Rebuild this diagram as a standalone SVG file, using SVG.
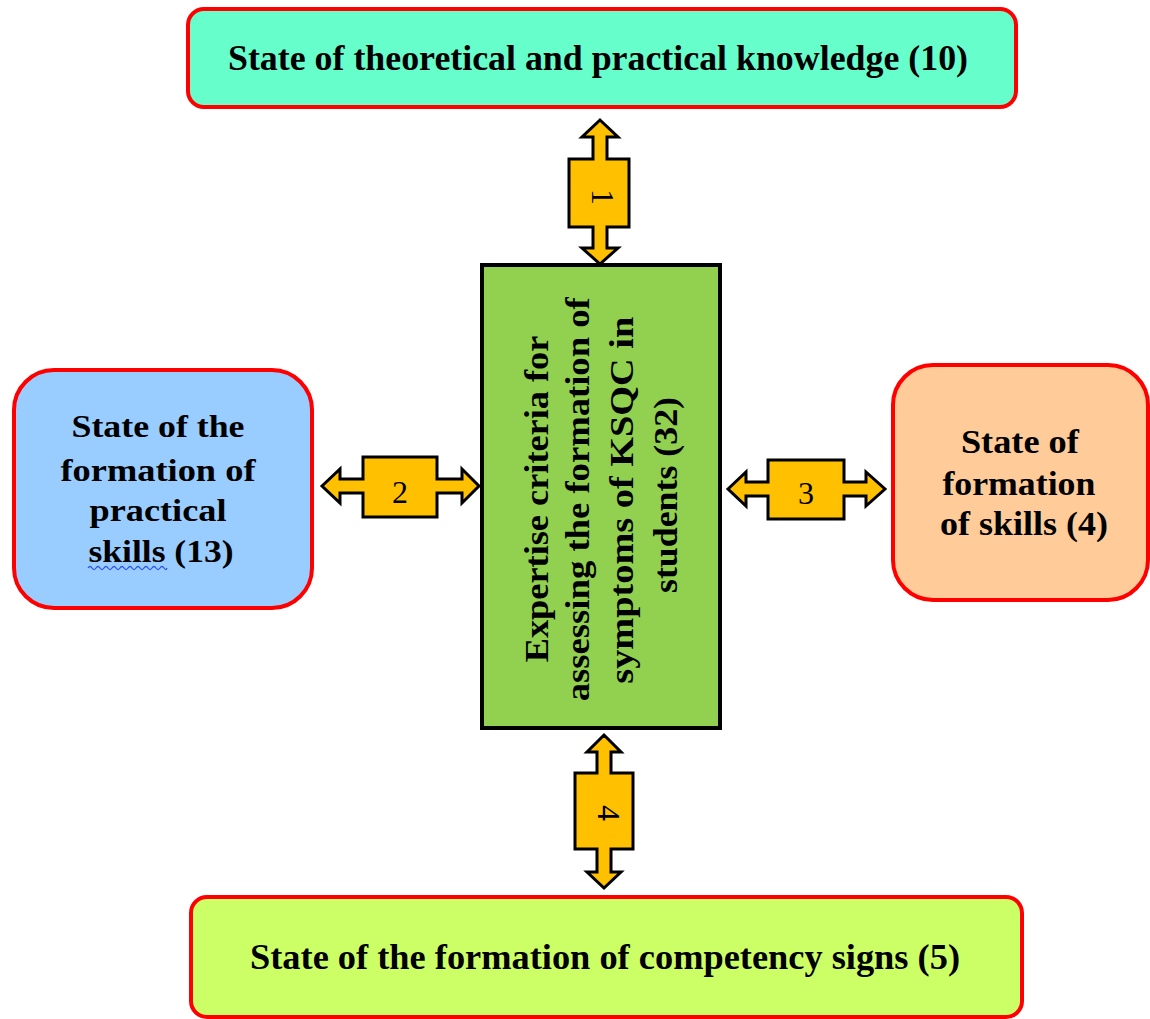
<svg xmlns="http://www.w3.org/2000/svg" width="1150" height="1019" viewBox="0 0 1150 1019">
<style>
.box{stroke:#FF0000;stroke-width:4}
.t{font-family:"Liberation Serif","Times New Roman",serif;font-weight:bold;fill:#000}
.arr{fill:#FFC000;stroke:#000;stroke-width:3;stroke-linejoin:miter}
.num{font-family:"Liberation Serif","Times New Roman",serif;font-size:32px;fill:#000}
</style>
<rect width="1150" height="1019" fill="#fff"/>
<g id="connectors">
<g id="arrow1">
<path class="arr" d="M600,120 L618,137 L607,137 L607,159 L629,159 L629,227 L607,227 L607,248 L618,248 L600,264 L582,248 L593,248 L593,227 L569,227 L569,159 L593,159 L593,137 L582,137 Z"/>
<text class="num" transform="rotate(90)" x="197" y="-592" text-anchor="middle">1</text>
</g>
<g id="arrow2">
<path class="arr" d="M322,486 L340,469 L340,479 L363,479 L363,457 L437,457 L437,479 L462,479 L462,469 L479,486 L462,503 L462,493 L437,493 L437,517 L363,517 L363,493 L340,493 L340,503 Z"/>
<text class="num" x="400" y="503" text-anchor="middle">2</text>
</g>
<g id="arrow3">
<path class="arr" d="M728,489 L746,472 L746,482 L768,482 L768,460 L844,460 L844,482 L866,482 L866,472 L885,489 L866,506 L866,496 L844,496 L844,519 L768,519 L768,496 L746,496 L746,506 Z"/>
<text class="num" x="806" y="504" text-anchor="middle">3</text>
</g>
<g id="arrow4">
<path class="arr" d="M604,735 L621,752 L611,752 L611,773 L633,773 L633,849 L611,849 L611,872 L621,872 L604,888 L587,872 L597,872 L597,849 L575,849 L575,773 L597,773 L597,752 L587,752 Z"/>
<text class="num" transform="rotate(90)" x="813" y="-598" text-anchor="middle">4</text>
</g>
</g>
<g id="node-top">
<rect class="box" x="188" y="9" width="828" height="98" rx="16" fill="#66FFCC"/>
<text class="t" x="228" y="70" font-size="36" textLength="740" lengthAdjust="spacingAndGlyphs">State of theoretical and practical knowledge (10)</text>
</g>
<g id="node-left">
<rect class="box" x="14" y="370" width="298" height="238" rx="40" fill="#99CCFF"/>
<text class="t" font-size="32" text-anchor="middle">
<tspan x="162" y="437" textLength="173" lengthAdjust="spacingAndGlyphs">State of the</tspan>
<tspan x="162" y="481" textLength="195" lengthAdjust="spacingAndGlyphs">formation of</tspan>
<tspan x="162" y="521" textLength="137" lengthAdjust="spacingAndGlyphs">practical</tspan>
<tspan x="161" y="562" textLength="145" lengthAdjust="spacingAndGlyphs">skills (13)</tspan>
</text>
<path d="M88,568 q2,-3 4,0 t4,0 t4,0 t4,0 t4,0 t4,0 t4,0 t4,0 t4,0 t4,0 t4,0 t4,0 t4,0 t4,0 t4,0 t4,0 t4,0 t4,0 t4,0 t3,0" fill="none" stroke="#3355DD" stroke-width="1.3"/>
</g>
<g id="node-right">
<rect class="box" x="893" y="365" width="255" height="235" rx="40" fill="#FFCC99"/>
<text class="t" font-size="33" text-anchor="middle">
<tspan x="1024" y="453" textLength="118" lengthAdjust="spacingAndGlyphs">State of</tspan>
<tspan x="1023" y="495" textLength="153" lengthAdjust="spacingAndGlyphs">formation</tspan>
<tspan x="1024" y="535" textLength="168" lengthAdjust="spacingAndGlyphs">of skills (4)</tspan>
</text>
</g>
<g id="node-center">
<rect x="482" y="265" width="238" height="463" fill="#92D050" stroke="#000" stroke-width="4"/>
<text class="t" font-size="34" text-anchor="middle" transform="rotate(-90)">
<tspan x="-495" y="548" textLength="326" lengthAdjust="spacingAndGlyphs">Expertise criteria  for</tspan>
<tspan x="-495" y="589" textLength="404" lengthAdjust="spacingAndGlyphs">assessing the formation of</tspan>
<tspan x="-496" y="633" textLength="367" lengthAdjust="spacingAndGlyphs">symptoms of  KSQC  in</tspan>
<tspan x="-495" y="677" textLength="196" lengthAdjust="spacingAndGlyphs">students (32)</tspan>
</text>
</g>
<g id="node-bottom">
<rect class="box" x="191" y="897" width="831" height="120" rx="16" fill="#CCFF66"/>
<text class="t" x="250" y="969" font-size="36" textLength="710" lengthAdjust="spacingAndGlyphs">State of the formation of competency signs (5)</text>
</g>
</svg>
